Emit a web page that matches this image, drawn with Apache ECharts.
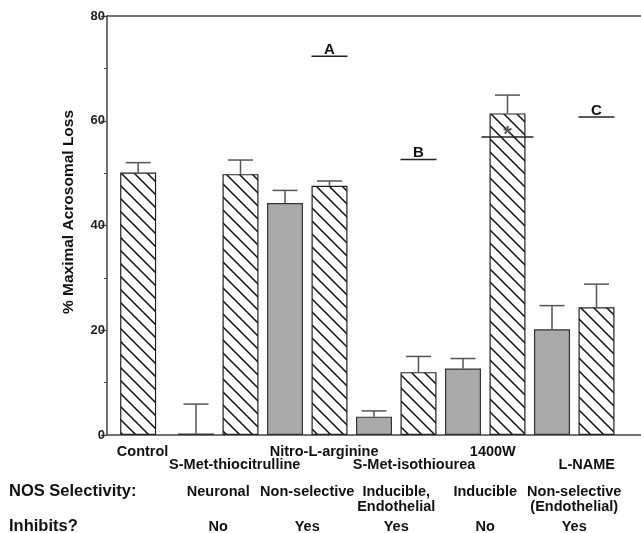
<!DOCTYPE html>
<html>
<head>
<meta charset="utf-8">
<script src="https://cdn.jsdelivr.net/npm/echarts@6/dist/echarts.min.js"></script>
<style>
  html, body { margin: 0; padding: 0; background: #fff; }
  #chart { width: 641px; height: 533px; }
</style>
</head>
<body>
<div id="chart"></div>
<script>
// treatments and where their names sit on the x scale
const treatments = ['Control', 'S-Met-thiocitrulline', 'Nitro-L-arginine', 'S-Met-isothiourea', '1400W', 'L-NAME'];
const treatmentLabelX = [0.8, 2.87, 4.88, 6.9, 8.67, 10.78];
const treatmentRow = [0, 1, 0, 1, 0, 1];

// NOS selectivity / inhibition per inhibitor group
const groupX = [2.5, 4.5, 6.5, 8.5, 10.5];
const selectivity = ['Neuronal', 'Non-selective', 'Inducible,\nEndothelial', 'Inducible', 'Non-selective\n(Endothelial)'];
const inhibits = ['No', 'Yes', 'Yes', 'No', 'Yes'];

// gray bars (inhibitor alone)
const grayX = [2, 4, 6, 8, 10];
const grayMean = [0.3, 44.3, 3.5, 12.7, 20.2];
const grayUpper = [5.9, 46.7, 4.6, 14.6, 24.7];

// hatched bars
const hatchX = [0.7, 3, 5, 7, 9, 11];
const hatchMean = [50.1, 49.8, 47.6, 12.0, 61.4, 24.4];
const hatchUpper = [52.0, 52.5, 48.5, 15.0, 64.9, 28.8];

// letter annotations above bars
const markX = [5, 7, 9, 11];
const markY = [72.3, 52.6, 56.9, 60.7];
const markText = ['A', 'B', '*', 'C'];

const FONT = '"Liberation Sans", Arial, Helvetica, sans-serif';
const AXIS_COLOR = '#444';

function hatchPattern() {
  const s = 13;
  const c = document.createElement('canvas');
  c.width = s; c.height = s;
  const g = c.getContext('2d');
  g.fillStyle = '#fff';
  g.fillRect(0, 0, s, s);
  g.strokeStyle = '#111';
  g.lineWidth = 1.5;
  g.beginPath();
  g.moveTo(-1, -1); g.lineTo(s + 1, s + 1);
  g.moveTo(-1, s - 1); g.lineTo(1, s + 1);
  g.moveTo(s - 1, -1); g.lineTo(s + 1, 1);
  g.stroke();
  return c;
}

const chart = echarts.init(document.getElementById('chart'));

const xAxisBase = {
  type: 'value', min: 0, max: 12,
  axisLine: { show: true, onZero: false, lineStyle: { color: AXIS_COLOR, width: 1.5 } },
  axisTick: { show: false },
  axisLabel: { show: false },
  splitLine: { show: false }
};

const option = {
  animation: false,
  backgroundColor: '#fff',
  grid: { left: 107, right: 0, top: 16, bottom: 98 },
  xAxis: [
    Object.assign({ position: 'bottom' }, xAxisBase),
    Object.assign({ position: 'top' }, xAxisBase)
  ],
  yAxis: {
    type: 'value', min: 0, max: 80, interval: 20,
    name: '% Maximal Acrosomal Loss',
    nameLocation: 'middle',
    nameGap: 30,
    nameTextStyle: { fontFamily: FONT, fontWeight: 'bold', fontSize: 15.5, color: '#111', padding: [0, 0, 0, 27] },
    axisLine: { show: true, lineStyle: { color: AXIS_COLOR, width: 1.5 } },
    axisTick: { show: true, length: 6, lineStyle: { color: AXIS_COLOR, width: 1.2 } },
    minorTick: { show: true, splitNumber: 2, length: 3, lineStyle: { color: AXIS_COLOR, width: 1 } },
    axisLabel: { fontFamily: FONT, fontWeight: 'bold', fontSize: 13, color: '#222', margin: 2 },
    splitLine: { show: false }
  },
  series: [
    {
      name: 'hatched',
      type: 'bar',
      xAxisIndex: 0,
      barWidth: 36,
      barGap: '-100%',
      data: hatchX.map((x, i) => [x, hatchMean[i]]),
      itemStyle: { color: { image: hatchPattern(), repeat: 'repeat' }, borderColor: '#222', borderWidth: 1.2 }
    },
    {
      name: 'gray',
      type: 'bar',
      xAxisIndex: 0,
      barWidth: 36,
      barGap: '-100%',
      data: grayX.map((x, i) => [x, grayMean[i]]),
      itemStyle: { color: '#aaaaaa', borderColor: '#333', borderWidth: 1.2 }
    },
    {
      name: 'error',
      type: 'custom',
      xAxisIndex: 0,
      data: hatchX.map((x, i) => [x, hatchMean[i], hatchUpper[i]])
        .concat(grayX.map((x, i) => [x, grayMean[i], grayUpper[i]])),
      renderItem: (params, api) => {
        const p0 = api.coord([api.value(0), api.value(1)]);
        const p1 = api.coord([api.value(0), api.value(2)]);
        const st = { stroke: '#555', lineWidth: 1.5 };
        return {
          type: 'group',
          children: [
            { type: 'line', shape: { x1: p0[0], y1: p0[1], x2: p1[0], y2: p1[1] }, style: st },
            { type: 'line', shape: { x1: p1[0] - 12.5, y1: p1[1], x2: p1[0] + 12.5, y2: p1[1] }, style: st }
          ]
        };
      }
    },
    {
      name: 'marks',
      type: 'custom',
      xAxisIndex: 0,
      clip: false,
      z: 5,
      data: markX.map((x, i) => [x, markY[i]]),
      renderItem: (params, api) => {
        const p = api.coord([api.value(0), api.value(1)]);
        const t = markText[params.dataIndex];
        const star = t === '*';
        const half = star ? 26 : 18;
        return {
          type: 'group',
          children: [
            { type: 'line', shape: { x1: p[0] - half, y1: p[1], x2: p[0] + half, y2: p[1] }, style: { stroke: '#222', lineWidth: 1.5 } },
            {
              type: 'text',
              style: {
                text: t, x: p[0], y: p[1] - (star ? 2 : 6.5),
                align: 'center', verticalAlign: 'middle',
                font: (star ? 'bold 22px ' : 'bold 15px ') + FONT,
                fill: star ? '#555' : '#111'
              }
            }
          ]
        };
      }
    }
  ]
};

chart.setOption(option);

// text rows under the x axis, placed through the x scale
const px = (u) => chart.convertToPixel({ xAxisIndex: 0 }, u);
const labelFont = 'bold 14.5px ' + FONT;
const headFont = 'bold 16.5px ' + FONT;
const graphic = [];

treatments.forEach((name, i) => {
  graphic.push({
    type: 'text', x: px(treatmentLabelX[i]), y: treatmentRow[i] ? 465.3 : 451.7,
    style: { text: name, font: labelFont, fill: '#111', align: 'center', verticalAlign: 'middle' }
  });
});

graphic.push({ type: 'text', x: 9, y: 491.7, style: { text: 'NOS Selectivity:', font: headFont, fill: '#111', align: 'left', verticalAlign: 'middle' } });
graphic.push({ type: 'text', x: 9, y: 526.7, style: { text: 'Inhibits?', font: headFont, fill: '#111', align: 'left', verticalAlign: 'middle' } });

groupX.forEach((u, i) => {
  graphic.push({
    type: 'text', x: px(u), y: 484.2,
    style: { text: selectivity[i], font: labelFont, lineHeight: 15.5, fill: '#111', align: 'center', verticalAlign: 'top' }
  });
  graphic.push({
    type: 'text', x: px(u), y: 526.7,
    style: { text: inhibits[i], font: labelFont, fill: '#111', align: 'center', verticalAlign: 'middle' }
  });
});

chart.setOption({ graphic: graphic });
</script>
</body>
</html>
